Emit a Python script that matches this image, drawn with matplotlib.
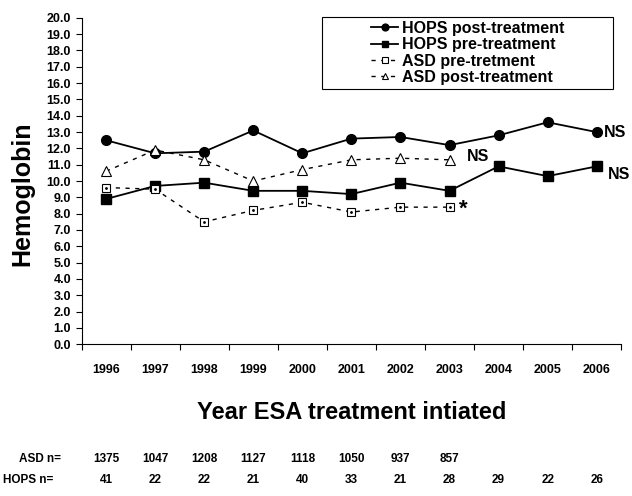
import numpy as np
import matplotlib.pyplot as plt
from matplotlib.patches import Rectangle
from matplotlib.transforms import blended_transform_factory

plt.rcParams['font.family'] = ['Liberation Sans', 'DejaVu Sans']
plt.rcParams['font.weight'] = 'bold'
plt.rcParams['axes.labelweight'] = 'bold'

# -----------------------------------------------------------------------------

years = ['1996', '1997', '1998', '1999', '2000', '2001',
         '2002', '2003', '2004', '2005', '2006']

hops_post = [12.5, 11.7, 11.8, 13.1, 11.7, 12.6, 12.7, 12.2, 12.8, 13.6, 13.0]
hops_pre = [8.9, 9.7, 9.9, 9.4, 9.4, 9.2, 9.9, 9.4, 10.9, 10.3, 10.9]
asd_pre = [9.6, 9.5, 7.5, 8.2, 8.7, 8.1, 8.4, 8.4]
asd_post = [10.6, 11.9, 11.3, 10.0, 10.7, 11.3, 11.4, 11.3]

asd_n = ['1375', '1047', '1208', '1127', '1118', '1050', '937', '857']
hops_n = ['41', '22', '22', '21', '40', '33', '21', '28', '29', '22', '26']

# -----------------------------------------------------------------------------

fig = plt.figure(figsize=(6.32, 4.96), dpi=100)
ax = fig.add_axes([0.129, 0.306, 0.854, 0.658])

x = np.arange(len(years))
xa = np.arange(len(asd_pre))

ax.plot(x, hops_post, '-o', color='black', linewidth=1.3, markersize=7,
        label='HOPS post-treatment')
ax.plot(x, hops_pre, '-s', color='black', linewidth=1.3, markersize=7,
        label='HOPS pre-treatment')
ax.plot(xa, asd_pre, linestyle=(0, (3, 4)), marker='s', color='black',
        markerfacecolor='white', linewidth=1.0, markersize=6,
        markeredgewidth=0.8, label='ASD pre-tretment')
ax.plot(xa, asd_pre, linestyle='none', marker='.', color='black',
        markersize=2)
ax.plot(xa, asd_post, linestyle=(0, (3, 4)), marker='^', color='black',
        markerfacecolor='white', linewidth=1.0, markersize=7,
        markeredgewidth=0.8, label='ASD post-treatment')

# significance marks
ax.text(10.14, hops_post[-1], 'NS', fontsize=11.5, va='center', ha='left')
ax.text(10.22, hops_pre[-1] - 0.5, 'NS', fontsize=11.5, va='center', ha='left')
ax.text(7.35, asd_post[-1] + 0.2, 'NS', fontsize=11.5, va='center', ha='left')
ax.text(7.2, asd_pre[-1] - 0.1, '*', fontsize=16, va='center', ha='left')

# axes
ax.set_ylim(0, 20)
ax.set_yticks(np.arange(0, 21, 1))
ax.set_yticklabels(['%.1f' % v for v in np.arange(0, 21, 1)], fontsize=9)
ax.set_ylabel('Hemoglobin', fontsize=18)
ax.yaxis.set_label_coords(-0.088, 0.46)

ax.set_xlim(-0.5, len(years) - 0.5)
ax.set_xticks(np.arange(-0.5, len(years), 1))
ax.set_xticklabels([])
ax.set_xticks(x, minor=True)
ax.set_xticklabels(years, minor=True, fontsize=9)
ax.tick_params(axis='x', which='minor', length=0, pad=14)
ax.tick_params(axis='both', which='major', length=4, width=0.8, direction='out')
ax.set_xlabel('Year ESA treatment intiated', fontsize=17, labelpad=18)

ax.spines['top'].set_visible(False)
ax.spines['right'].set_visible(False)

# legend box with centred entries
box = (0.446, 0.782, 0.539, 0.221)
ax.add_patch(Rectangle(box[:2], box[2], box[3], transform=ax.transAxes,
                       facecolor='white', edgecolor='black', linewidth=0.8,
                       clip_on=False, zorder=4))
leg = ax.legend(loc='center', bbox_to_anchor=box,
                fontsize=11.5, handlelength=1.75, handletextpad=0.25,
                labelspacing=0.08, borderpad=0.0, borderaxespad=0.0,
                frameon=False, markerscale=0.7)
leg.set_zorder(5)

# sample size rows
tr = blended_transform_factory(ax.transData, fig.transFigure)
fig.text(0.03, 1 - 459 / 496, 'ASD n=', fontsize=8.5, va='center')
fig.text(0.004, 1 - 480 / 496, 'HOPS n=', fontsize=8.5, va='center')
for i, s in enumerate(asd_n):
    ax.text(i, 1 - 459 / 496, s, transform=tr, fontsize=8.5,
            ha='center', va='center')
for i, s in enumerate(hops_n):
    ax.text(i, 1 - 480 / 496, s, transform=tr, fontsize=8.5,
            ha='center', va='center')

fig.savefig('out.png', dpi=100)
